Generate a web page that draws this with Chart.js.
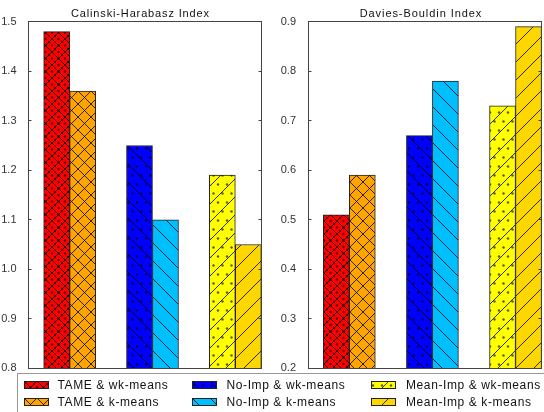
<!DOCTYPE html>
<html>
<head>
<meta charset="utf-8">
<script src="https://cdn.jsdelivr.net/npm/chart.js@4.4.1/dist/chart.umd.min.js"></script>
<style>
  body { margin: 0; background: #fff; }
  #wrap { position: relative; width: 544px; height: 412px; overflow: hidden; font-family: "Liberation Sans", Arial, sans-serif; }
  #chartCH { position: absolute; left: 0; top: 0; }
  #chartDB { position: absolute; left: 272px; top: 0; }
  #legend { position: absolute; left: 17px; top: 373px; width: 540px; height: 50px; border: 1px solid #999; box-sizing: border-box; }
  .lbl { position: absolute; font-size: 12px; letter-spacing: 0.6px; line-height: 16px; color: #111; white-space: nowrap; }
  .ttl { position: absolute; top: 5px; font-size: 11px; line-height: 16px; color: #111; white-space: nowrap; }
  .sw { position: absolute; }
</style>
</head>
<body>
<div id="wrap">
  <canvas id="chartCH" width="272" height="380"></canvas>
  <canvas id="chartDB" width="272" height="380"></canvas>
  <span id="ttlCH" class="ttl"></span>
  <span id="ttlDB" class="ttl"></span>
  <div id="legend"></div>
</div>
<script>
// groups sit at x = 1, 2, 3 (no x labels shown)
var groups = [1, 2, 3];
var titles = ["Calinski-Harabasz Index", "Davies-Bouldin Index"];
var wkNames = ["TAME & wk-means", "No-Imp & wk-means", "Mean-Imp & wk-means"];
var kNames = ["TAME & k-means", "No-Imp & k-means", "Mean-Imp & k-means"];

var chWk = [1.48, 1.25, 1.19];
var chK = [1.36, 1.10, 1.05];
var dbWk = [0.51, 0.67, 0.73];
var dbK = [0.59, 0.78, 0.89];

var chTicks = [0.8, 0.9, 1.0, 1.1, 1.2, 1.3, 1.4, 1.5];
var dbTicks = [0.2, 0.3, 0.4, 0.5, 0.6, 0.7, 0.8, 0.9];

var wkColors = ["#ff0000", "#0000ff", "#ffff00"];
var kColors = ["#ffa500", "#00bfff", "#ffd700"];
var hatch = ["cross", "back", "fwd"];

function makePattern(color, kind, dots) {
    var s = kind == "cross" ? 13 : 18;
    var c = document.createElement("canvas");
    c.width = s; c.height = s;
    var g = c.getContext("2d");
    g.fillStyle = color;
    g.fillRect(0, 0, s, s);
    g.strokeStyle = "rgba(0,0,0,0.8)";
    g.lineWidth = 1;
    g.beginPath();
    for (var k = -s; k <= s; k += s) {
        if (kind == "cross" || kind == "back") {
            g.moveTo(k, 0); g.lineTo(k + s, s);
        }
        if (kind == "cross" || kind == "fwd") {
            g.moveTo(k, s); g.lineTo(k + s, 0);
        }
    }
    g.stroke();
    if (dots) {
        g.fillStyle = "rgba(0,0,0,0.65)";
        var pts = kind == "cross"
            ? [[6.5, 6.5], [0, 6.5], [13, 6.5], [6.5, 0], [6.5, 13], [3, 10], [10, 3]]
            : [[2, 4.5], [11, 4.5], [6.5, 13.5], [15.5, 13.5]];
        pts.forEach(function (p) {
            g.beginPath();
            g.arc(p[0], p[1], 1.2, 0, Math.PI * 2);
            g.fill();
        });
    }
    return g.createPattern(c, "repeat");
}

var wkPatterns = [], kPatterns = [];
for (var i = 0; i < 3; i++) {
    wkPatterns.push(makePattern(wkColors[i], hatch[i], true));
    kPatterns.push(makePattern(kColors[i], hatch[i], false));
}

// box round the plot with inward ticks on both sides
var framePlugin = {
    id: "frame",
    afterDraw: function (chart) {
        var a = chart.chartArea, ctx = chart.ctx, y = chart.scales.y;
        var l = Math.floor(a.left) + 0.5, r = Math.floor(a.right) + 0.5;
        var t = Math.floor(a.top) + 0.5, b = Math.floor(a.bottom) + 0.5;
        ctx.save();
        ctx.strokeStyle = "#444";
        ctx.lineWidth = 1;
        ctx.strokeRect(l, t, r - l, b - t);
        ctx.beginPath();
        y.ticks.forEach(function (tk) {
            var p = Math.floor(y.getPixelForValue(tk.value)) + 0.5;
            ctx.moveTo(l, p); ctx.lineTo(l + 3, p);
            ctx.moveTo(r - 3, p); ctx.lineTo(r, p);
        });
        ctx.stroke();
        ctx.restore();
    }
};

function makeChart(id, wk, k, ticks, yWidth, padRight) {
    return new Chart(document.getElementById(id), {
        type: "bar",
        data: {
            datasets: [
                {
                    label: "wk-means",
                    data: groups.map(function (g, i) { return { x: g, y: wk[i] }; }),
                    backgroundColor: wkPatterns,
                    borderColor: "#222",
                    borderWidth: 1,
                    base: ticks[0],
                    barThickness: 26
                },
                {
                    label: "k-means",
                    data: groups.map(function (g, i) { return { x: g, y: k[i] }; }),
                    backgroundColor: kPatterns,
                    borderColor: "#222",
                    borderWidth: 1,
                    base: ticks[0],
                    barThickness: 26
                }
            ]
        },
        options: {
            responsive: false,
            animation: false,
            layout: { padding: { top: 21.7, bottom: 11.7, left: 0, right: padRight } },
            plugins: {
                legend: { display: false },
                tooltip: { enabled: false }
            },
            scales: {
                x: { type: "linear", min: 0.503, max: 3.31, offset: false, display: false },
                y: {
                    min: ticks[0],
                    max: ticks[ticks.length - 1],
                    grid: { display: false },
                    border: { display: false },
                    afterFit: function (s) { s.width = yWidth; },
                    afterBuildTicks: function (s) {
                        s.ticks = ticks.map(function (v) { return { value: v }; });
                    },
                    ticks: {
                        padding: 4,
                        color: "#333",
                        font: { size: 11, family: '"Liberation Sans", Arial, sans-serif' },
                        callback: function (v) { return Number(v).toFixed(1); }
                    }
                }
            }
        },
        plugins: [framePlugin]
    });
}

makeChart("chartCH", chWk, chK, chTicks, 28.5, 11);
makeChart("chartDB", dbWk, dbK, dbTicks, 36, 2.7);

// titles: spread the letters to the reference width and centre them
function placeTitle(id, text, centre, width) {
    var el = document.getElementById(id);
    el.textContent = text;
    var w = el.getBoundingClientRect().width;
    var sp = (width - w) / (text.length - 1);
    el.style.letterSpacing = sp + "px";
    w = el.getBoundingClientRect().width - sp;
    el.style.left = (centre - w / 2) + "px";
}
placeTitle("ttlCH", titles[0], 140, 138);
placeTitle("ttlDB", titles[1], 420.5, 121.7);

// shared legend, 3 columns x 2 rows
var legend = document.getElementById("legend");
var colSw = [23.5, 192, 371], colTx = [57.5, 226.5, 406];
var rowSw = [381, 397.5], rowTx = [376.8, 393.8];
function addItem(col, row, name, pat) {
    var c = document.createElement("canvas");
    c.width = 25; c.height = 8;
    c.className = "sw";
    c.style.left = (colSw[col] - 18) + "px";
    c.style.top = (rowSw[row] - 374) + "px";
    var g = c.getContext("2d");
    g.fillStyle = pat;
    g.fillRect(0, 0, 25, 8);
    g.strokeStyle = "#222";
    g.strokeRect(0.5, 0.5, 24, 7);
    legend.appendChild(c);
    var s = document.createElement("span");
    s.className = "lbl";
    s.textContent = name;
    s.style.left = (colTx[col] - 18) + "px";
    s.style.top = (rowTx[row] - 374) + "px";
    legend.appendChild(s);
}
for (var j = 0; j < 3; j++) {
    addItem(j, 0, wkNames[j], wkPatterns[j]);
    addItem(j, 1, kNames[j], kPatterns[j]);
}
</script>
</body>
</html>
